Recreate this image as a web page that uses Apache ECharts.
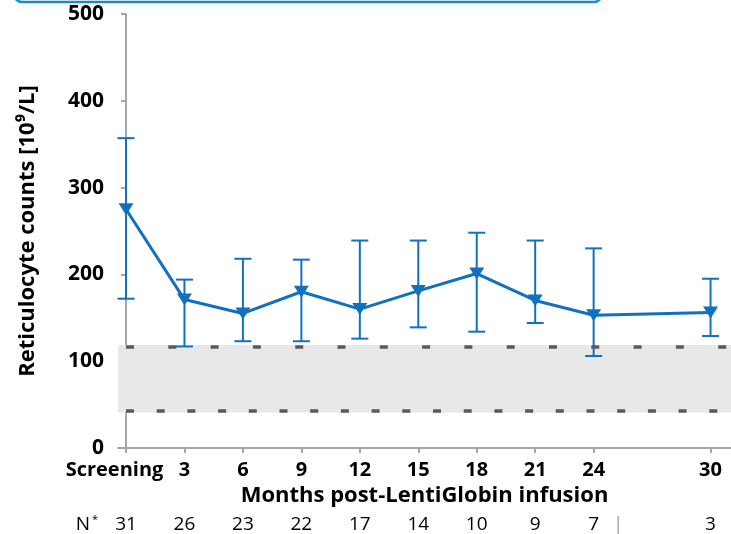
<!DOCTYPE html>
<html>
<head>
<meta charset="utf-8">
<script src="https://cdn.jsdelivr.net/npm/echarts@6/dist/echarts.min.js"></script>
<style>html,body{margin:0;padding:0;background:#fff}#c{width:731px;height:534px}</style>
</head>
<body>
<div id="c"></div>
<script>
// ---- data ----
var categories = ['Screening', '3', '6', '9', '12', '15', '18', '21', '24', '30'];
var positions = [0, 1, 2, 3, 4, 5, 6, 7, 8, 10];          // axis slots (gap between 24 and 30)
var meanValues = [275, 171, 155, 180, 160, 181, 201, 170, 153, 156];
var lowerValues = [172, 117, 123, 123, 126, 139, 134, 144, 106, 129];
var upperValues = [357, 194, 218, 217, 239, 239, 248, 239, 230, 195];
var nCounts = ['31', '26', '23', '22', '17', '14', '10', '9', '7', '3'];
var breakPosition = 8.42;
var normalRange = [41, 118.7];
var normalLines = [116.4, 43];

var FONT = 'Open Sans';
var BLUE = '#1170bf';
var GRAY = '#a6a6a6';

var lineData = positions.map(function (p, i) { return [p, meanValues[i]]; });
var errData = positions.map(function (p, i) { return [p, lowerValues[i], upperValues[i]]; });

var labelMap = {};
positions.forEach(function (p, i) { labelMap[p] = categories[i]; });
var nMap = {};
positions.forEach(function (p, i) { nMap[p] = nCounts[i]; });

var chart = echarts.init(document.getElementById('c'), null, { renderer: 'canvas' });
chart.setOption({
  animation: false,
  textStyle: { fontFamily: FONT },
  graphic: [{
    type: 'rect', silent: true,
    shape: { x: 14, y: -40, width: 588, height: 42, r: 8 },
    style: { fill: null, stroke: '#1b8bc6', lineWidth: 2.5 }
  }],
  grid: { left: 118, right: 0, top: 14, bottom: 85.7 },
  xAxis: [{
    type: 'value', min: -0.137, max: 10.35,
    splitLine: { show: false },
    axisLine: { show: true, lineStyle: { color: GRAY, width: 2 } },
    axisTick: { show: true, customValues: positions, length: 5, lineStyle: { color: GRAY, width: 2 } },
    axisLabel: {
      customValues: positions, margin: 12, color: '#000', fontFamily: FONT,
      fontWeight: 'bold', fontSize: 20,
      formatter: function (v) {
        var t = labelMap[v];
        if (t === 'Screening') return '{s|' + t + '}';
        return t;
      },
      rich: { s: { fontFamily: FONT, fontWeight: 'bold', fontSize: 20, color: '#000', padding: [0, 23, 0, 0] } }
    },
    name: 'Months post-LentiGlobin infusion', nameLocation: 'middle', nameGap: 33,
    nameTextStyle: { fontFamily: FONT, fontWeight: 'bold', fontSize: 22, color: '#000' }
  }, {
    type: 'value', min: -0.137, max: 10.35, position: 'bottom', offset: 76.5,
    splitLine: { show: false },
    axisLine: { show: false }, axisTick: { show: false },
    axisLabel: {
      customValues: positions.concat([breakPosition]), margin: 0, color: '#000',
      fontFamily: FONT, fontSize: 19, verticalAlign: 'middle',
      formatter: function (v) {
        if (v === breakPosition) return '{b||}';
        return nMap[v];
      },
      rich: { b: { color: '#a0a0a0', fontSize: 19, fontFamily: FONT } }
    },
    name: '{n|N}{sup|*}', nameLocation: 'start', nameGap: 20,
    nameTextStyle: {
      rich: {
        n: { fontFamily: FONT, fontSize: 19, color: '#000' },
        sup: { fontFamily: FONT, fontSize: 11, color: '#000', padding: [0, 0, 9, 2] }
      }
    }
  }],
  yAxis: {
    type: 'value', min: 0, max: 500, interval: 100,
    splitLine: { show: false },
    axisLine: { show: true, lineStyle: { color: GRAY, width: 2 } },
    axisTick: { show: true, length: 5, lineStyle: { color: GRAY, width: 2 } },
    axisLabel: { margin: 14, color: '#000', fontFamily: FONT, fontWeight: 'bold', fontSize: 21 },
    name: 'Reticulocyte counts [10⁹/L]', nameLocation: 'middle', nameGap: 79, nameRotate: 90,
    nameTextStyle: { fontFamily: FONT, fontWeight: 'bold', fontSize: 22, color: '#000' }
  },
  series: [{
    type: 'custom', xAxisIndex: 0, yAxisIndex: 0,
    data: errData, z: 3,
    encode: { x: 0, y: [1, 2] },
    renderItem: function (params, api) {
      var x = api.value(0);
      var lo = api.coord([x, api.value(1)]);
      var hi = api.coord([x, api.value(2)]);
      var hw = 8.5;
      var st = { stroke: BLUE, lineWidth: 2 };
      return {
        type: 'group',
        children: [
          { type: 'line', shape: { x1: lo[0], y1: lo[1], x2: hi[0], y2: hi[1] }, style: st },
          { type: 'line', shape: { x1: lo[0] - hw, y1: lo[1], x2: lo[0] + hw, y2: lo[1] }, style: st },
          { type: 'line', shape: { x1: hi[0] - hw, y1: hi[1], x2: hi[0] + hw, y2: hi[1] }, style: st }
        ]
      };
    },
    markArea: {
      silent: true,
      itemStyle: { color: '#e8e8e8' },
      data: [[{ yAxis: normalRange[0] }, { yAxis: normalRange[1] }]]
    },
    markLine: {
      silent: true, symbol: 'none', label: { show: false },
      data: [
        { yAxis: normalLines[0], lineStyle: { color: '#5a5a5a', width: 3.5, type: [8, 34.3], dashOffset: 34.3 } },
        { yAxis: normalLines[1], lineStyle: { color: '#5a5a5a', width: 3.5, type: [8, 22.7], dashOffset: 22.7 } }
      ]
    }
  }, {
    type: 'line', xAxisIndex: 0, yAxisIndex: 0, z: 4,
    data: lineData,
    symbol: 'triangle', symbolRotate: 180, symbolSize: [15, 12],
    lineStyle: { color: BLUE, width: 3 },
    itemStyle: { color: BLUE }
  }]
});
</script>
</body>
</html>
